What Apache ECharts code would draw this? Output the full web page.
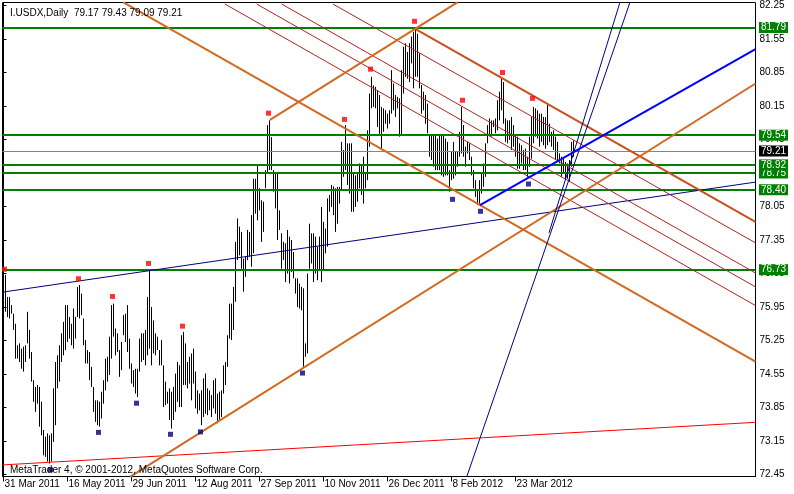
<!DOCTYPE html>
<html><head><meta charset="utf-8">
<script src="https://cdn.jsdelivr.net/npm/echarts@6/dist/echarts.min.js"></script>
<style>html,body{margin:0;padding:0;background:#fff}#c{width:794px;height:494px}</style>
</head><body><div id="c"></div>
<script>
// ---- DATA ----
const symbolName = "I.USDX,Daily";
const lastOHLC = [79.17, 79.43, 79.09, 79.21];
const dateTicks = [0, 32, 64, 96, 128, 160, 192, 224, 256];
const dateLabels = ["31 Mar 2011","16 May 2011","29 Jun 2011","12 Aug 2011","27 Sep 2011","10 Nov 2011","26 Dec 2011","8 Feb 2012","23 Mar 2012"];
const priceTicks = [72.45,73.15,73.85,74.55,75.25,75.95,76.65,77.35,78.05,78.75,79.45,80.15,80.85,81.55,82.25];
const barHigh = [
76.27,76.62,76.16,76.16,75.99,75.81,75.60,75.15,75.19,75.08,75.12,75.15,75.85,75.47,75.01,74.42,74.28,74.32,74.28,73.97,
73.38,73.24,73.31,73.27,73.31,74.25,74.80,74.94,75.15,75.40,75.64,75.99,75.99,75.74,75.60,75.92,75.74,76.37,76.41,76.23,
75.71,75.26,75.05,75.01,74.70,74.28,74.00,74.00,73.97,74.18,74.42,74.87,74.91,75.33,75.99,76.02,75.50,75.40,75.05,75.22,
75.78,75.81,75.99,75.29,74.77,74.63,74.66,74.66,75.29,75.40,75.40,75.47,76.16,76.72,75.95,75.67,75.40,75.33,75.05,75.26,
74.73,74.39,74.18,74.25,74.18,74.28,74.56,74.80,74.73,75.36,75.43,75.19,74.80,74.91,74.98,75.08,74.60,74.21,74.14,74.21,
74.46,74.56,74.25,74.21,74.11,74.42,74.46,74.14,74.18,74.21,74.73,74.80,75.36,76.02,76.02,76.37,77.31,77.80,77.63,77.52,
76.96,77.00,77.56,77.52,77.87,78.63,78.63,78.91,78.43,78.18,78.15,78.81,79.75,79.85,79.50,78.81,78.77,78.77,77.97,77.49,
77.31,77.28,77.56,77.42,77.35,77.10,76.55,76.55,76.44,76.37,76.34,75.19,76.65,77.69,77.49,77.49,77.42,77.21,77.42,78.04,
77.73,77.59,78.22,78.29,78.50,78.47,78.43,78.46,78.46,79.40,79.23,79.75,79.37,79.37,79.37,78.74,78.70,78.77,78.95,78.91,
79.09,78.74,79.64,80.41,80.76,80.58,80.55,80.48,80.38,80.13,80.10,80.06,79.99,80.06,80.90,80.62,80.38,80.34,80.31,80.90,
81.39,81.46,81.28,81.46,81.60,81.70,81.77,81.66,81.25,80.59,80.45,80.38,80.20,79.54,79.54,79.54,79.54,79.47,79.54,79.54,
79.54,79.47,79.40,78.81,79.19,79.40,79.19,79.19,79.61,80.13,79.75,79.30,79.40,79.37,79.09,78.81,78.60,78.39,78.60,78.74,
78.95,79.37,79.75,79.89,79.85,79.85,79.89,80.27,80.45,80.72,80.65,79.89,79.85,79.85,79.92,79.75,79.54,79.51,79.37,79.33,
79.23,79.26,79.09,79.51,79.92,80.13,80.10,80.06,79.99,79.99,79.92,79.92,80.17,79.78,79.61,79.64,79.51,79.40,79.16,79.09,
79.05,78.98,78.95,79.02,79.40,79.43];
const barLow = [
75.67,75.85,75.74,75.71,75.81,75.47,74.87,74.87,74.80,74.66,74.60,74.80,75.19,74.87,74.39,73.97,73.76,73.93,73.45,73.27,
72.85,72.82,72.72,72.68,72.72,73.13,73.48,74.25,74.39,74.80,74.94,75.05,75.22,75.29,75.15,75.08,75.29,75.74,75.71,75.78,
75.15,74.77,74.77,74.42,74.28,73.76,73.55,73.48,73.45,73.62,73.93,74.21,74.39,74.53,74.87,75.33,74.94,75.01,74.49,74.63,
75.36,75.22,75.01,74.66,74.35,74.28,74.14,74.07,74.60,74.80,74.84,74.73,74.94,75.08,74.73,74.98,74.94,75.05,74.73,74.73,
73.86,73.90,73.93,73.59,73.41,73.59,73.76,73.97,73.86,73.86,74.32,74.32,74.25,74.35,74.00,74.35,73.83,73.72,73.79,73.48,
73.65,73.72,73.69,73.79,73.65,73.83,73.72,73.52,73.59,73.65,74.14,74.32,74.70,75.29,75.26,75.47,76.06,76.93,77.03,76.75,
76.27,76.58,76.93,77.00,76.79,77.07,77.90,77.76,77.97,77.31,77.52,78.43,78.74,78.81,78.81,78.36,78.01,77.35,77.56,76.75,
76.93,76.47,76.65,76.44,76.68,76.55,76.23,75.95,75.92,75.88,74.70,74.91,74.98,76.75,76.86,76.47,76.65,76.51,76.72,76.47,
76.72,77.07,77.21,77.94,78.04,77.87,77.52,77.69,78.11,78.39,78.67,78.81,78.50,78.32,77.94,77.94,78.04,78.15,78.43,78.29,
78.11,78.43,78.60,79.30,80.10,80.13,80.10,79.71,79.57,79.23,79.61,79.78,79.68,79.78,79.99,80.06,79.92,80.10,79.51,79.54,
80.41,80.76,80.72,80.65,81.04,80.52,80.76,80.76,80.52,79.99,80.06,79.78,79.58,79.09,79.02,78.88,78.81,78.81,78.81,78.70,
78.67,78.70,78.70,78.36,78.60,78.63,78.70,78.88,79.09,79.16,79.09,78.88,79.16,79.02,78.70,78.43,78.25,78.08,78.11,78.32,
78.46,78.67,79.37,79.54,79.51,79.71,79.58,79.64,79.85,80.06,79.78,79.40,79.37,79.44,79.23,79.30,79.09,78.84,78.84,78.95,
78.81,78.81,78.67,78.88,79.05,79.37,79.51,79.47,79.30,79.40,79.33,79.26,79.33,79.40,79.30,79.23,79.02,79.02,78.95,78.67,
78.74,78.63,78.63,78.56,78.88,79.09];
// fractal markers [barIndex, price]
const fractalUp = [[1,76.74],[38,76.54],[55,76.17],[73,76.86],[90,75.55],[133,80.00],[171,79.87],[184,80.92],[206,81.92],[230,80.27],[250,80.85],[265,80.31]];
const fractalDown = [[24,72.55],[48,73.33],[67,73.94],[84,73.29],[99,73.34],[150,74.57],[225,78.20],[239,77.95],[263,78.52]];
// horizontal levels
const levels = [81.79, 79.54, 78.75, 78.92, 78.40, 76.73];
const bidPrice = 79.21;
// trend lines: two anchor points [barIndex, price]
const chanRed1 = [[110.75,82.28],[376,75.98]];
const chanRed2 = [[126.6,82.28],[376,76.37]];
const chanRed3 = [[139.1,82.28],[376,76.66]];
const chanRed4 = [[164.75,82.28],[376,77.29]];
const chanUpper = [[205.4,81.77],[376,77.73]];
const chanLower = [[59.75,82.32],[376,74.81]];
const riseUpper = [[133.25,79.86],[227.1,82.32]];
const riseLower = [[63.25,72.40],[376,80.62]];
const blueTrend = [[238.25,78.08],[376,81.34]];
const navyLong = [[-0.5,76.26],[376,78.56]];
const redLong = [[-0.5,72.65],[376,73.54]];
const steep1 = [[231.6,72.40],[313.25,82.32]];
const steep2 = [[272.75,77.50],[308.25,82.32]];

// ---- CHART ----
const FONT = "'Liberation Sans', Arial, sans-serif";
const chart = echarts.init(document.getElementById('c'), null, {renderer:'canvas'});
function tl(data, color, width){
  return {type:'line', data:data, showSymbol:false, symbol:'none', clip:true, silent:true,
    lineStyle:{color:color, width:width, type:'solid'}, z:5, animation:false};
}
const markData = levels.map(v => ({yAxis:v, lineStyle:{color:'#008000', width:2, type:'solid'},
  label:{backgroundColor:'#008000'}}));
markData.unshift({yAxis:bidPrice, lineStyle:{color:'#778899', width:1, type:'solid'}, label:{backgroundColor:'#000'}});
chart.setOption({
  animation:false,
  backgroundColor:'#fff',
  title:[
    {text: symbolName + '  ' + lastOHLC.map(v=>v.toFixed(2)).join(' '), left:5, top:3,
     textStyle:{fontFamily:FONT, fontSize:10, fontWeight:'normal', color:'#000'}},
    {text:'MetaTrader 4, © 2001-2012, MetaQuotes Software Corp.', left:5, top:460, z:20,
     textStyle:{fontFamily:FONT, fontSize:10, fontWeight:'normal', color:'#000'}}
  ],
  grid:{left:2.5, right:38.5, top:2.5, bottom:17.5, show:true, borderColor:'#000', borderWidth:1, backgroundColor:'#fff'},
  xAxis:{type:'value', min:-0.5, max:376, splitLine:{show:false},
    axisLine:{show:true, lineStyle:{color:'#000'}},
    axisTick:{show:true, length:5, lineStyle:{color:'#000'}, customValues:dateTicks},
    axisLabel:{customValues:dateTicks, align:'left', margin:3, padding:[0,0,0,1], color:'#000', fontFamily:FONT, fontSize:10,
      formatter:v => { const k = dateTicks.indexOf(Math.round(v)); return k >= 0 ? dateLabels[k] : ''; }}},
  yAxis:{type:'value', position:'right', min:72.4082, max:82.3127, splitLine:{show:false},
    axisLine:{show:true, lineStyle:{color:'#000'}},
    axisTick:{show:true, length:3, lineStyle:{color:'#000'}, customValues:priceTicks},
    axisLabel:{customValues:priceTicks, margin:4, color:'#000', fontFamily:FONT, fontSize:10,
      formatter:v => v.toFixed(2)}},
  series:[
    {type:'custom', z:2, silent:true, clip:true,
     data: barHigh.map((h,i)=>[i, h, barLow[i]]),
     renderItem:(params, api) => {
       const p1 = api.coord([api.value(0), api.value(1)]);
       const p2 = api.coord([api.value(0), api.value(2)]);
       return {type:'line', shape:{x1:p1[0], y1:p1[1], x2:p2[0], y2:p2[1]}, style:{stroke:'#000', lineWidth:1}};
     }},
    tl(redLong, '#ff0000', 1),
    tl(navyLong, '#000080', 1),
    tl(chanRed1, '#b22222', 1),
    tl(chanRed2, '#b22222', 1),
    tl(chanRed3, '#b22222', 1),
    tl(chanRed4, '#b22222', 1),
    tl(chanLower, '#d2691e', 2),
    tl(chanUpper, '#c8501e', 2),
    tl(riseUpper, '#d2691e', 2),
    tl(riseLower, '#d2691e', 2),
    tl(steep1, '#000080', 1),
    tl(steep2, '#000080', 1),
    tl(blueTrend, '#0000ff', 2),
    {type:'line', data:[], z:6, silent:true, symbol:'none',
     markLine:{silent:true, symbol:['none','none'], animation:false, precision:2,
       lineStyle:{type:'solid'},
       label:{show:true, position:'end', distance:3.5, color:'#fff', fontFamily:FONT, fontSize:10,
         padding:[1,2,0,2], lineHeight:10, formatter:p => p.value.toFixed(2)},
       data: markData}},
    {type:'scatter', data:fractalUp, symbol:'rect', symbolSize:5, symbolOffset:[-1,0], itemStyle:{color:'#ff0000'}, z:7, silent:true},
    {type:'scatter', data:fractalDown, symbol:'rect', symbolSize:5, symbolOffset:[-1,0], itemStyle:{color:'#000080'}, z:7, silent:true}
  ]
});
</script></body></html>
